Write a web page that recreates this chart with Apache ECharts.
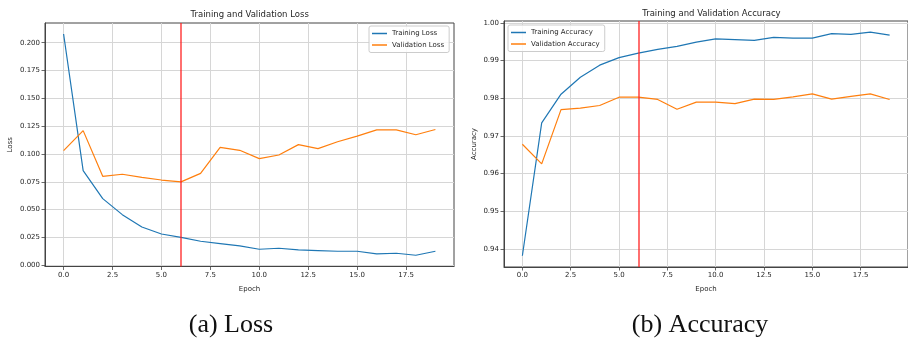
<!DOCTYPE html>
<html><head><meta charset="utf-8">
<script src="https://cdn.jsdelivr.net/npm/echarts@6/dist/echarts.min.js"></script>
<style>html,body{margin:0;padding:0;background:#fff}#c{width:908px;height:338px}</style>
</head><body><div id="c"></div>
<script>
const epochs = [0,1,2,3,4,5,6,7,8,9,10,11,12,13,14,15,16,17,18,19];
const trainLoss = [0.2078,0.085,0.0599,0.0455,0.0344,0.0281,0.0251,0.0216,0.0195,0.0174,0.0144,0.0153,0.0138,0.0132,0.0126,0.0126,0.0102,0.0108,0.0090,0.0126];
const valLoss = [0.103,0.121,0.0799,0.0818,0.0790,0.0766,0.0749,0.0826,0.1060,0.1033,0.0958,0.0991,0.1084,0.1048,0.1110,0.1161,0.1217,0.1217,0.1173,0.1220];
const trainAcc = [0.9382,0.9735,0.9811,0.9856,0.9888,0.9908,0.9920,0.9930,0.9938,0.9949,0.9958,0.9956,0.9954,0.9962,0.9960,0.9960,0.9972,0.9970,0.9976,0.9968];
const valAcc = [0.9678,0.9626,0.9770,0.9774,0.9781,0.9803,0.9803,0.9797,0.9771,0.9790,0.9790,0.9786,0.9798,0.9797,0.9804,0.9812,0.9798,0.9805,0.9812,0.9797];
const epochTicks = [0,2.5,5,7.5,10,12.5,15,17.5];
const lossTicks = [0,0.025,0.05,0.075,0.1,0.125,0.15,0.175,0.2];
const accTicks = [0.94,0.95,0.96,0.97,0.98,0.99,1.0];
const bestEpoch = 6;
const titles = ['Training and Validation Loss','Training and Validation Accuracy'];
const captions = ['(a) Loss','(b) Accuracy'];

const C_BLUE = '#1f77b4', C_ORANGE = '#ff7f0e';
const FONT = 'DejaVu Sans';
const txt = '#262626';

function pairs(ys){ return epochs.map((e,i)=>[e, ys[i]]); }

function xAx(gi){
  return {type:'value', gridIndex:gi, min:-0.95, max:19.95,
    name:'Epoch', nameLocation:'middle', nameGap:19,
    nameTextStyle:{fontSize:7, color:txt, fontFamily:FONT},
    axisLine:{show:true, onZero:false, lineStyle:{color:'#444', width:1}},
    axisTick:{show:true, length:3.5, customValues:epochTicks, lineStyle:{color:'#444', width:0.8}},
    axisLabel:{customValues:epochTicks, formatter:v=>Number(v).toFixed(1), margin:5, fontSize:7, color:txt, fontFamily:FONT},
    splitLine:{show:true, lineStyle:{color:'#d6d6d6', width:1}}};
}
function yAx(gi, name, min, max, ticks, dec, gap){
  return {type:'value', gridIndex:gi, min:min, max:max,
    name:name, nameLocation:'middle', nameGap:gap, nameRotate:90,
    nameTextStyle:{fontSize:7, color:txt, fontFamily:FONT},
    axisLine:{show:true, onZero:false, lineStyle:{color:'#444', width:1}},
    axisTick:{show:true, length:3.5, customValues:ticks, lineStyle:{color:'#444', width:0.8}},
    axisLabel:{customValues:ticks, formatter:v=>Number(v).toFixed(dec), margin:5, fontSize:7, color:txt, fontFamily:FONT},
    splitLine:{show:true, lineStyle:{color:'#d6d6d6', width:1}}};
}
function ser(name, gi, ys, color, withMark){
  const s = {name:name, type:'line', xAxisIndex:gi, yAxisIndex:gi, data:pairs(ys),
    showSymbol:false, symbol:'none', lineStyle:{color:color, width:1.2}, itemStyle:{color:color},
    z:3, animation:false};
  if (withMark) {
    s.markLine = {silent:true, symbol:['none','none'], label:{show:false},
      lineStyle:{color:'rgba(255,30,30,0.8)', width:1.6, type:'solid'},
      data:[{xAxis:bestEpoch}], animation:false};
  }
  return s;
}
function legend(left, top, names){
  return {orient:'vertical', left:left, top:top, data:names, icon:'rect',
    itemWidth:15, itemHeight:1.5, itemGap:2.5, padding:[3,5,3,3],
    backgroundColor:'rgba(255,255,255,0.85)', borderColor:'#cccccc', borderWidth:1, borderRadius:2,
    textStyle:{fontSize:7, color:txt, fontFamily:FONT, lineHeight:9}};
}

const chart = echarts.init(document.getElementById('c'), null, {renderer:'canvas'});
chart.setOption({
  animation:false,
  backgroundColor:'#fff',
  grid:[
    {left:45, top:23, width:409, height:243.5, show:true, borderColor:'#444', borderWidth:1, containLabel:false},
    {left:504, top:21, width:414, height:246, show:true, borderColor:'#444', borderWidth:1, containLabel:false}
  ],
  xAxis:[xAx(0), xAx(1)],
  yAxis:[yAx(0,'Loss',-0.0011,0.2177,lossTicks,3,31), yAx(1,'Accuracy',0.93522,1.00053,accTicks,2,26)],
  legend:[legend(369,26,['Training Loss','Validation Loss']), legend(508,25,['Training Accuracy','Validation Accuracy'])],
  series:[
    ser('Training Loss',0,trainLoss,C_BLUE,true),
    ser('Validation Loss',0,valLoss,C_ORANGE,false),
    ser('Training Accuracy',1,trainAcc,C_BLUE,true),
    ser('Validation Accuracy',1,valAcc,C_ORANGE,false)
  ],
  graphic:[
    {type:'text', x:249.7, y:15, style:{text:titles[0], align:'center', verticalAlign:'middle', fontSize:8.5, fill:txt, fontFamily:FONT}},
    {type:'text', x:711.4, y:13.3, style:{text:titles[1], align:'center', verticalAlign:'middle', fontSize:8.5, fill:txt, fontFamily:FONT}},
    {type:'text', x:231, y:325, style:{text:captions[0], align:'center', verticalAlign:'middle', fontSize:26, fill:'#111', fontFamily:'Liberation Serif'}},
    {type:'text', x:700, y:325, style:{text:captions[1], align:'center', verticalAlign:'middle', fontSize:26, fill:'#111', fontFamily:'Liberation Serif'}}
  ]
});
</script></body></html>
